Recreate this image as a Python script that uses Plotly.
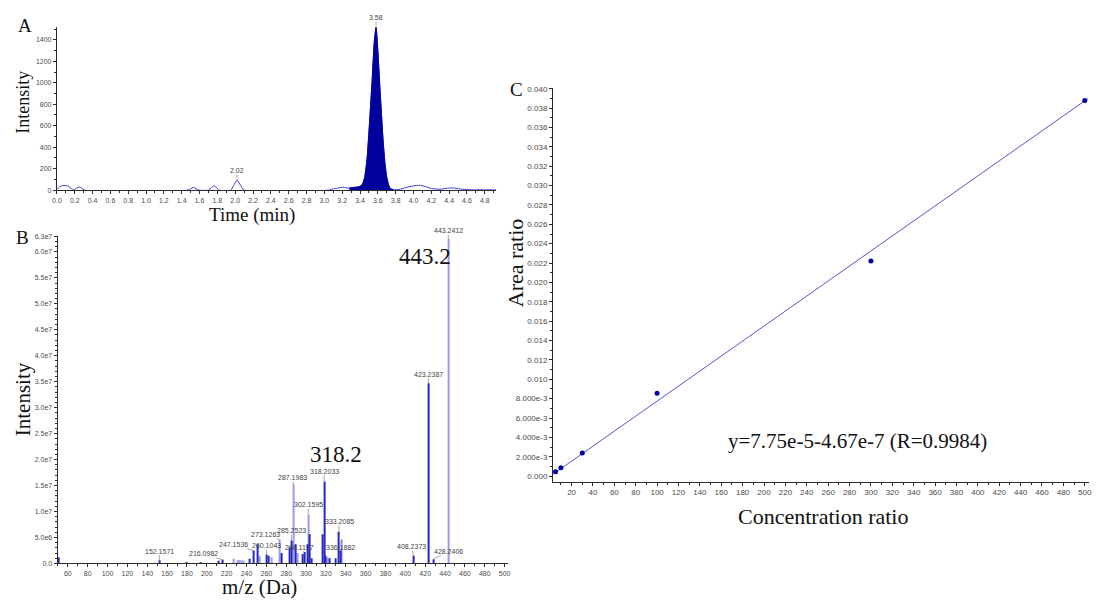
import numpy as np
import plotly.graph_objects as go

# ---------------- Panel A: chromatogram ----------------
a_time = [0.00, 0.03, 0.06, 0.10, 0.13, 0.16, 0.19, 0.22, 0.25, 0.28, 0.31,
          1.47, 1.50, 1.53, 1.56, 1.59, 1.70, 1.73, 1.76, 1.79, 1.82,
          1.95, 1.98, 2.02, 2.06, 2.10, 3.05, 3.10, 3.15, 3.20, 3.25,
          3.28, 3.33, 3.38, 3.42, 3.45, 3.48, 3.50, 3.52, 3.54, 3.56, 3.58,
          3.60, 3.62, 3.64, 3.66, 3.68, 3.70, 3.72, 3.74, 3.77,
          3.85, 3.92, 4.00, 4.07, 4.13, 4.20, 4.30, 4.40, 4.46, 4.55, 4.65,
          4.80, 4.93]
a_int = [5, 30, 42, 42, 35, 15, 2, 18, 30, 18, 0,
         0, 12, 25, 14, 0, 0, 22, 40, 25, 0,
         0, 40, 92, 45, 0, 0, 12, 18, 28, 20,
         20, 25, 30, 45, 110, 300, 540, 800, 1080, 1380, 1515,
         1300, 1000, 720, 450, 250, 120, 50, 15, 5,
         8, 25, 40, 45, 35, 15, 8, 20, 18, 8, 3,
         3, 2]
a_peak_window = (3.28, 3.77)          # integrated retention window
a_peak_labels = ["2.02", "3.58"]
a_xticks = [round(0.2 * i, 1) for i in range(25)]
a_yticks = [0, 200, 400, 600, 800, 1000, 1200, 1400]

# ---------------- Panel B: product-ion spectrum ----------------
b_dark_mz = [51.0, 152.1571, 180.0, 194.0, 212.0, 216.0982, 243.0, 247.1536,
             251.0, 260.1043, 262.0, 275.0, 283.5, 285.2523, 289.5, 296.5,
             298.1197, 301.4, 303.4, 305.5, 316.6, 318.2033, 320.0, 323.5,
             330.0, 333.2085, 335.0, 408.2373, 423.2387, 428.2406]
b_dark_int = [0.12e7, 0.06e7, 0.03e7, 0.03e7, 0.05e7, 0.07e7, 0.09e7, 0.25e7,
              0.37e7, 0.17e7, 0.15e7, 0.20e7, 0.31e7, 0.44e7, 0.37e7, 0.18e7,
              0.22e7, 0.37e7, 0.56e7, 0.10e7, 0.56e7, 1.58e7, 0.15e7, 0.10e7,
              0.10e7, 0.61e7, 0.25e7, 0.15e7, 3.47e7, 0.08e7]
b_light_mz = [226.7, 231.0, 233.0, 235.0, 237.0, 253.4, 265.0, 273.1263,
              287.1983, 291.5, 302.1595, 321.5, 336.1882, 443.2412]
b_light_int = [0.09e7, 0.06e7, 0.07e7, 0.06e7, 0.05e7, 0.15e7, 0.12e7, 0.46e7,
               1.52e7, 0.20e7, 0.94e7, 0.12e7, 0.46e7, 6.25e7]
b_labels = ["152.1571", "216.0982", "247.1536", "260.1043", "273.1263",
            "285.2523", "287.1983", "298.1197", "302.1595", "318.2033",
            "333.2085", "336.1882", "408.2373", "423.2387", "428.2406",
            "443.2412"]
b_main_ions = ["443.2", "318.2"]
b_xticks = list(range(60, 501, 20))
b_yticks = [0, 0.5e7, 1.0e7, 1.5e7, 2.0e7, 2.5e7, 3.0e7, 3.5e7, 4.0e7,
            4.5e7, 5.0e7, 5.5e7, 6.0e7, 6.3e7]
b_yticktext = ["0.0", "5.0e6", "1.0e7", "1.5e7", "2.0e7", "2.5e7", "3.0e7",
               "3.5e7", "4.0e7", "4.5e7", "5.0e7", "5.5e7", "6.0e7", "6.3e7"]

# ---------------- Panel C: calibration curve ----------------
c_conc = [5, 10, 30, 100, 300, 500]
c_ratio = [0.00045, 0.00086, 0.00239, 0.00857, 0.02222, 0.03878]
c_slope = 7.75e-5
c_intercept = -4.67e-7
c_r = 0.9984
c_xticks = list(range(20, 501, 20))
c_yticks = [0.000, 0.002, 0.004, 0.006, 0.008] + [round(0.010 + 0.002 * i, 3) for i in range(16)]
c_yticktext = ["0.000", "2.000e-3", "4.000e-3", "6.000e-3", "8.000e-3"] + \
              ["%.3f" % v for v in c_yticks[5:]]

# ---------------- styling ----------------
W, H = 1098, 605
SERIF = "Liberation Serif, Times New Roman, serif"
SANS = "Liberation Sans, Arial, sans-serif"
AXC = "#2b2b2b"
TICKC = "#4a4a4a"


def fx(px):
    return px / W


def fy(py):
    return 1 - py / H


def axis_style(domain, rng, tickvals, ticktext, minor_dtick, size=7, anchor=None):
    return dict(
        domain=domain, range=rng, anchor=anchor,
        tickmode="array", tickvals=tickvals, ticktext=ticktext,
        ticks="outside", ticklen=3, tickwidth=1, tickcolor=AXC,
        minor=dict(ticks="outside", ticklen=2, tickwidth=1, tickcolor=AXC,
                   tick0=0, dtick=minor_dtick),
        showline=True, linecolor=AXC, linewidth=1,
        showgrid=False, zeroline=False,
        tickfont=dict(family=SANS, size=size, color=TICKC),
        fixedrange=True,
    )


fig = go.Figure()

# --- A traces ---
t_arr = np.array(a_time)
i_arr = np.array(a_int)
in_peak = (t_arr >= a_peak_window[0]) & (t_arr <= a_peak_window[1])
fig.add_trace(go.Scatter(
    x=t_arr, y=i_arr, mode="lines", xaxis="x", yaxis="y",
    line=dict(color="#3d3dd8", width=1, shape="spline", smoothing=0.6),
    showlegend=False, hoverinfo="skip"))
fig.add_trace(go.Scatter(
    x=t_arr[in_peak], y=i_arr[in_peak], mode="lines", xaxis="x", yaxis="y",
    fill="tozeroy", fillcolor="#00009c",
    line=dict(color="#00009c", width=1, shape="spline", smoothing=0.6),
    showlegend=False, hoverinfo="skip"))

# --- B traces (stick spectrum) ---
fig.add_trace(go.Bar(
    x=b_light_mz, y=b_light_int, width=1.0, xaxis="x2", yaxis="y2",
    marker=dict(color="#9a9ae8", line=dict(width=0)),
    showlegend=False, hoverinfo="skip"))
fig.add_trace(go.Bar(
    x=b_dark_mz, y=b_dark_int, width=1.0, xaxis="x2", yaxis="y2",
    marker=dict(color="#2626c2", line=dict(width=0)),
    showlegend=False, hoverinfo="skip"))

# --- C traces ---
c_xrange = [2.6, 504]
fit_x = np.array(c_xrange) + np.array([0.4, -1.0])
fit_y = c_slope * fit_x + c_intercept
fig.add_trace(go.Scatter(
    x=fit_x, y=fit_y, mode="lines", xaxis="x3", yaxis="y3",
    line=dict(color="#5656d2", width=1), showlegend=False, hoverinfo="skip"))
fig.add_trace(go.Scatter(
    x=c_conc, y=c_ratio, mode="markers", xaxis="x3", yaxis="y3",
    marker=dict(color="#0000a0", size=5), showlegend=False, hoverinfo="skip"))

annotations = []

# peak apex labels in A
for lab in a_peak_labels:
    rt = float(lab)
    idx = int(np.argmin(np.abs(t_arr - rt)))
    annotations.append(dict(
        x=rt, y=a_int[idx], xref="x", yref="y", text=lab,
        showarrow=True, arrowhead=0, arrowwidth=0.6, arrowcolor="#777",
        ax=0, ay=-10, font=dict(family=SANS, size=7, color="#444"),
        borderpad=0))

# fragment labels in B
label_offsets = {
    "152.1571": (0, -9), "216.0982": (-19, -6), "247.1536": (-20, -6),
    "260.1043": (0, -9), "273.1263": (-14, -5), "285.2523": (0, -10),
    "287.1983": (-1, -7), "298.1197": (-5, -5), "302.1595": (0, -10),
    "318.2033": (0, -10), "333.2085": (0, -10), "336.1882": (-2, 8),
    "408.2373": (-2, -9), "423.2387": (0, -9), "428.2406": (15, -8),
    "443.2412": (0, -8),
}
all_mz = b_dark_mz + b_light_mz
all_int = b_dark_int + b_light_int
for lab in b_labels:
    mz = float(lab)
    k = int(np.argmin(np.abs(np.array(all_mz) - mz)))
    ax, ay = label_offsets[lab]
    annotations.append(dict(
        x=mz, y=all_int[k], xref="x2", yref="y2", text=lab,
        showarrow=True, arrowhead=0, arrowwidth=0.6, arrowcolor="#666",
        ax=ax, ay=ay, font=dict(family=SANS, size=7, color="#444"),
        borderpad=0))

# large ion labels in B
for lab, (px, py) in zip(b_main_ions, [(423, 255), (333, 456)]):
    annotations.append(dict(
        x=fx(px), y=fy(py), xref="paper", yref="paper", text=lab,
        showarrow=False, font=dict(family=SERIF, size=23, color="#111"),
        xanchor="center", yanchor="middle"))

# panel letters and axis titles
texts = [
    ("A", 20, 22, 19, 0), ("B", 18, 236, 19, 0), ("C", 515, 87, 19, 0),
    ("Intensity", 18, 99, 18, -90), ("Time (min)", 249, 213, 19, 0),
    ("Intensity", 19, 400, 21, -90), ("m/z (Da)", 256, 590, 21, 0),
    ("Area ratio", 515, 262, 22, -90), ("Concentration ratio", 824, 518, 22, 0),
    ("y=%.2fe-5-%.2fe-7 (R=%.4f)" % (c_slope * 1e5, -c_intercept * 1e7, c_r),
     859, 442, 21, 0),
]
for txt, px, py, size, ang in texts:
    annotations.append(dict(
        x=fx(px), y=fy(py), xref="paper", yref="paper", text=txt,
        showarrow=False, textangle=ang,
        font=dict(family=SERIF, size=size, color="#111"),
        xanchor="center", yanchor="middle"))

fig.update_layout(
    width=W, height=H,
    margin=dict(l=0, r=0, t=0, b=0),
    paper_bgcolor="white", plot_bgcolor="white",
    barmode="overlay",
    showlegend=False,
    xaxis=axis_style([fx(52.3), fx(495)], [0, 4.93], a_xticks,
                     ["%.1f" % v for v in a_xticks], 0.1, anchor="y"),
    yaxis=axis_style([fy(188.3), fy(23)], [0, 1522], a_yticks,
                     [str(v) for v in a_yticks], 100, anchor="x"),
    xaxis2=axis_style([fx(53), fx(507)], [49.7, 503.7], b_xticks,
                      [str(v) for v in b_xticks], 10, anchor="y2"),
    yaxis2=axis_style([fy(566), fy(235)], [0, 6.3e7], b_yticks,
                      b_yticktext, 0.1e7, anchor="x2"),
    xaxis3=axis_style([fx(552), fx(1092)], c_xrange, c_xticks,
                      [str(v) for v in c_xticks], 10, size=8, anchor="y3"),
    yaxis3=axis_style([fy(483.3), fy(85)], [-0.00057, 0.04007], c_yticks,
                      c_yticktext, 0.001, size=8, anchor="x3"),
    annotations=annotations,
)

fig.write_html("out.html")
